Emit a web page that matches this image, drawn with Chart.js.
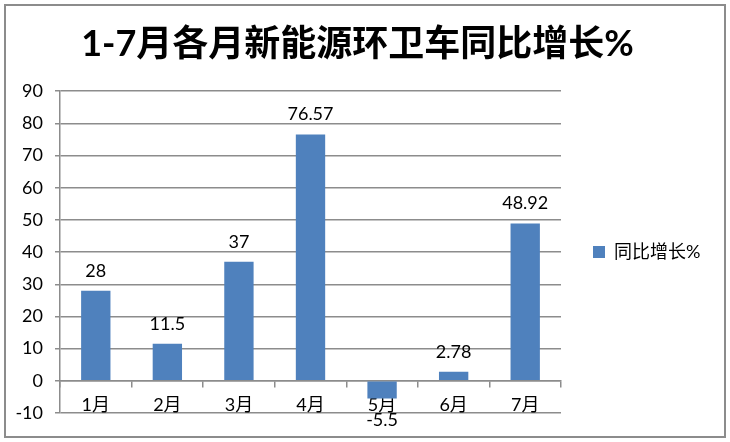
<!DOCTYPE html>
<html>
<head>
<meta charset="utf-8">
<script src="https://cdn.jsdelivr.net/npm/chart.js@4/dist/chart.umd.min.js"></script>
<style>
    body { margin: 0; background: #fff; }
    #wrap { position: relative; width: 730px; height: 442px; }
    #frame {
        position: absolute; left: 4px; top: 4px; width: 718px; height: 430px;
        border: 2px solid #8c8c8c; pointer-events: none;
    }
</style>
</head>
<body>
<div id="wrap">
    <canvas id="chart" width="730" height="442"></canvas>
    <div id="frame"></div>
</div>
<script>
// 데이터
const months = ["1月", "2月", "3月", "4月", "5月", "6月", "7月"];
const growth = [28, 11.5, 37, 76.57, -5.5, 2.78, 48.92];
const seriesName = "同比增长%";
const chartTitle = "1-7月各月新能源环卫车同比增长%";

const fontFamily = 'Lato, "Noto Sans CJK SC", sans-serif';
const gridColor = "#8c8c8c";

// 막대 위/아래 값 표시
const valueLabels = {
    id: "valueLabels",
    afterDatasetsDraw(chart) {
        const ctx = chart.ctx;
        const meta = chart.getDatasetMeta(0);
        ctx.save();
        ctx.font = "18px " + fontFamily;
        ctx.fillStyle = "#000";
        ctx.textAlign = "center";
        ctx.textBaseline = "middle";
        meta.data.forEach((bar, i) => {
            const v = growth[i];
            const y = v >= 0 ? bar.y - 20 : bar.y + 22;
            ctx.fillText(String(v), bar.x, y);
        });
        ctx.restore();
    }
};

// 범례 폭 고정
const legendWidth = {
    id: "legendWidth",
    beforeInit(chart) {
        const fit = chart.legend.fit;
        chart.legend.fit = function () {
            fit.call(this);
            this.width = 144;
        };
    }
};

new Chart(document.getElementById("chart"), {
    type: "bar",
    data: {
        labels: months,
        datasets: [
            {
                label: seriesName,
                data: growth,
                backgroundColor: "#4F81BD",
                categoryPercentage: 1,
                barPercentage: 0.41,
            },
        ],
    },
    options: {
        responsive: false,
        animation: false,
        layout: { padding: { left: 10, right: 25, top: 5, bottom: 29 } },
        plugins: {
            title: {
                display: true,
                text: chartTitle,
                color: "#000",
                font: { family: fontFamily, size: 36, weight: "bold" },
                padding: { top: 18, bottom: 25 },
            },
            legend: {
                position: "right",
                fullSize: false,
                labels: {
                    color: "#000",
                    font: { family: fontFamily, size: 18 },
                    boxWidth: 12,
                    boxHeight: 12,
                    padding: 32,
                },
            },
            tooltip: { enabled: false },
        },
        scales: {
            x: {
                position: { y: 0 },
                grid: {
                    display: true,
                    drawOnChartArea: false,
                    drawTicks: true,
                    tickLength: 6,
                    color: gridColor,
                    lineWidth: 1.5,
                },
                border: { display: true, color: gridColor, width: 1.5 },
                ticks: {
                    color: "#000",
                    font: { family: fontFamily, size: 18 },
                    padding: 8,
                },
            },
            y: {
                min: -10,
                max: 90,
                afterFit(scale) {
                    scale.width = 50;
                },
                grid: {
                    color: gridColor,
                    lineWidth: 1.5,
                    tickLength: 5,
                },
                border: { display: true, color: gridColor, width: 1.5 },
                ticks: {
                    stepSize: 10,
                    color: "#000",
                    font: { family: fontFamily, size: 18 },
                    padding: 12,
                },
            },
        },
    },
    plugins: [valueLabels, legendWidth],
});
</script>
</body>
</html>
